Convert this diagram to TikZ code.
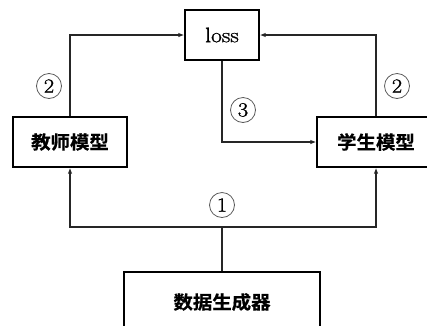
\documentclass[tikz,border=0pt]{standalone}
\usepackage{fontspec}
\usepackage{graphicx}
\newfontfamily\cjkb{Noto Sans CJK SC Bold}[FakeBold=0.6]
\newfontfamily\lmh{Latin Modern Roman}[FakeBold=1.2]
\usetikzlibrary{arrows.meta}
\newcommand{\sx}[1]{\scalebox{1.12}[1]{#1}}
\newcommand{\sz}[1]{\scalebox{1.05}[1]{#1}}
\begin{document}
\begin{tikzpicture}[x=1pt,y=-1pt,
  box/.style={draw, line width=1.3pt, inner sep=0pt},
  cn/.style={draw=black!65, circle, line width=0.8pt, minimum size=25pt, inner sep=0pt, font=\lmh\fontsize{20}{22}\selectfont},
  conn/.style={line width=1.3pt, black!85},
  arr/.style={conn, -{Latex[length=6pt,width=4.5pt]}},
  zh/.style={font=\cjkb\fontsize{18.5}{20}\selectfont}]
\useasboundingbox (0,0) rectangle (427,325);
\node[box, minimum width=74pt, minimum height=50pt, font=\lmh\fontsize{21}{24}\selectfont] (loss) at (222,35) {\sx{loss}};
\node[box, zh, minimum width=114pt, minimum height=50pt] (teacher) at (70,142) {\sz{教师模型}\hspace{10pt}};
\node[box, zh, minimum width=118pt, minimum height=50pt] (student) at (376,142) {\sz{学生模型}};
\node[box, zh, minimum width=196pt, minimum height=60pt] (data) at (222,302) {\sz{数据生成器}};
\coordinate (j) at (222,227);
\draw[arr] (teacher.north) |- (loss.west);
\draw[arr] (student.north) |- (loss.east);
\draw[arr] (loss.south) |- (student.west);
\draw[conn] (data.north) -- (j);
\draw[arr] (j) -| (teacher.south);
\draw[arr] (j) -| (student.south);
\node[cn] (c2l) at (49,86) {\sx{2}};
\node[cn] (c2r) at (397,86) {\sx{2}};
\node[cn] (c3) at (243,110) {\sx{3}};
\node[cn] (c1) at (222,205) {\sx{1}};
\end{tikzpicture}
\end{document}
